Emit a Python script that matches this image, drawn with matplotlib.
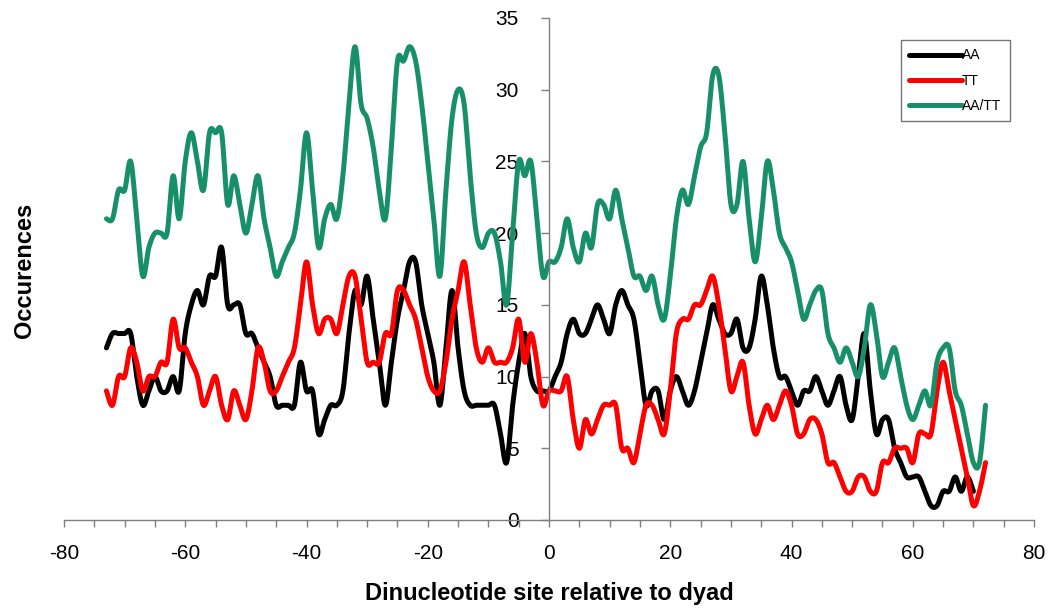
import numpy as np
import matplotlib.pyplot as plt
from matplotlib.ticker import MultipleLocator

# occurrences per dinucleotide position, first site at -73
X_START = -73

AA = [
    12, 13, 13, 13, 13, 10, 8, 9, 10, 9,
    9, 10, 9, 13, 15, 16, 15, 17, 17, 19,
    15, 15, 15, 13, 13, 12, 11, 10, 8, 8,
    8, 8, 11, 9, 9, 6, 7, 8, 8, 9,
    13, 16, 15, 17, 14, 11, 8, 11, 14, 16,
    18, 18, 15, 13, 11, 8, 12, 16, 12, 9,
    8, 8, 8, 8, 8, 6, 4, 8, 11, 13,
    10, 9, 9, 9, 10, 11, 13, 14, 13, 13,
    14, 15, 14, 13, 15, 16, 15, 14, 11, 8,
    9, 9, 7, 9, 10, 9, 8, 9, 11, 13,
    15, 14, 13, 13, 14, 12, 12, 14, 17, 15,
    12, 10, 10, 9, 8, 9, 9, 10, 9, 8,
    9, 10, 8, 7, 10, 13, 9, 6, 7, 7,
    5, 4, 3, 3, 3, 2, 1, 1, 2, 2,
    3, 2, 3, 2,
]

TT = [
    9, 8, 10, 10, 12, 11, 9, 10, 10, 11,
    11, 14, 12, 12, 11, 10, 8, 9, 10, 8,
    7, 9, 8, 7, 9, 12, 11, 9, 9, 10,
    11, 12, 15, 18, 15, 13, 14, 14, 13, 15,
    17, 17, 14, 11, 11, 11, 13, 13, 16, 16,
    15, 14, 12, 10, 9, 9, 11, 14, 16, 18,
    15, 12, 11, 12, 11, 11, 11, 12, 14, 11,
    13, 11, 8, 9, 9, 9, 10, 7, 5, 7,
    6, 7, 8, 8, 8, 5, 5, 4, 6, 8,
    8, 7, 6, 9, 13, 14, 14, 15, 15, 16,
    17, 15, 12, 9, 10, 11, 8, 6, 7, 8,
    7, 8, 9, 8, 6, 6, 7, 7, 6, 4,
    4, 3, 2, 2, 3, 3, 2, 2, 4, 4,
    5, 5, 5, 4, 6, 6, 6, 9, 11, 9,
    7, 5, 3, 1, 2, 4,
]

AA_TT = [
    21, 21, 23, 23, 25, 21, 17, 19, 20, 20,
    20, 24, 21, 25, 27, 25, 23, 27, 27, 27,
    22, 24, 22, 20, 22, 24, 21, 19, 17, 18,
    19, 20, 23, 27, 23, 19, 21, 22, 21, 24,
    29, 33, 29, 28, 26, 23, 21, 26, 32, 32,
    33, 32, 29, 25, 21, 17, 23, 28, 30, 29,
    24, 20, 19, 20, 20, 18, 15, 20, 25, 24,
    25, 21, 17, 18, 18, 19, 21, 19, 18, 20,
    19, 22, 22, 21, 23, 21, 19, 17, 17, 16,
    17, 15, 14, 17, 21, 23, 22, 24, 26, 27,
    31, 31, 27, 22, 22, 25, 21, 18, 21, 25,
    23, 20, 19, 18, 16, 14, 15, 16, 16, 13,
    12, 11, 12, 11, 10, 12, 15, 13, 10, 11,
    12, 10, 8, 7, 8, 9, 8, 11, 12, 12,
    9, 8, 6, 4, 4, 8,
]

SERIES = [
    ("AA", AA, "#000000"),
    ("TT", TT, "#ff0000"),
    ("AA/TT", AA_TT, "#17906a"),
]

plt.rcParams["font.family"] = ["Liberation Sans", "DejaVu Sans"]
plt.rcParams["axes.unicode_minus"] = False


def smooth(x, y, steps=16):
    """Bezier smoothing through every point (control arms = 1/6 of neighbour span)."""
    x = np.asarray(x, float)
    y = np.asarray(y, float)
    px = np.concatenate([[x[0]], x, [x[-1]]])
    py = np.concatenate([[y[0]], y, [y[-1]]])
    t = np.linspace(0, 1, steps, endpoint=False)[:, None]
    xs, ys = [], []
    for i in range(1, len(px) - 2):
        p0 = np.array([px[i], py[i]])
        p3 = np.array([px[i + 1], py[i + 1]])
        p1 = p0 + (p3 - np.array([px[i - 1], py[i - 1]])) / 6
        p2 = p3 - (np.array([px[i + 2], py[i + 2]]) - p0) / 6
        pts = ((1 - t) ** 3) * p0 + 3 * ((1 - t) ** 2) * t * p1 + 3 * (1 - t) * t ** 2 * p2 + t ** 3 * p3
        xs.append(pts[:, 0])
        ys.append(pts[:, 1])
    xs.append([x[-1]])
    ys.append([y[-1]])
    return np.concatenate(xs), np.concatenate(ys)


fig = plt.figure(figsize=(10.56, 6.14), dpi=100)
ax = fig.add_axes([0.0606, 0.1531, 0.9186, 0.8176])

for label, vals, color in SERIES:
    xs = np.arange(X_START, X_START + len(vals))
    sx, sy = smooth(xs, vals)
    ax.plot(sx, sy, color=color, lw=3.6, label=label, solid_capstyle="round",
            solid_joinstyle="round")

ax.set_xlim(-80, 80)
ax.set_ylim(0, 35)
# value axis crosses the category axis at x = 0
ax.spines["left"].set_position(("data", 0))
ax.spines["right"].set_visible(False)
ax.spines["top"].set_visible(False)
for side in ("left", "bottom"):
    ax.spines[side].set_color("#7f7f7f")
    ax.spines[side].set_linewidth(1.0)

ax.xaxis.set_major_locator(MultipleLocator(20))
ax.xaxis.set_minor_locator(MultipleLocator(5))
ax.yaxis.set_major_locator(MultipleLocator(5))
ax.tick_params(axis="both", which="both", color="#7f7f7f", width=1.0)
ax.tick_params(axis="x", which="both", direction="out", length=5, pad=12, labelsize=15)
ax.tick_params(axis="y", which="major", direction="out", length=6, pad=16, labelsize=15)

ax.set_xlabel("Dinucleotide site relative to dyad", fontsize=17, fontweight="bold",
              labelpad=14)
fig.text(25 / 1056, 1 - 270 / 614, "Occurences", rotation=90, fontsize=17,
         fontweight="bold", ha="center", va="center")

leg = ax.legend(loc="upper right", bbox_to_anchor=(0.975, 0.956), fontsize=10,
                frameon=True, fancybox=False, handlelength=3.8, handletextpad=0.0,
                borderpad=0.6, labelspacing=0.8, borderaxespad=0)
leg.get_frame().set_edgecolor("#555555")
leg.get_frame().set_linewidth(1.0)

fig.savefig("out.png", dpi=100)
